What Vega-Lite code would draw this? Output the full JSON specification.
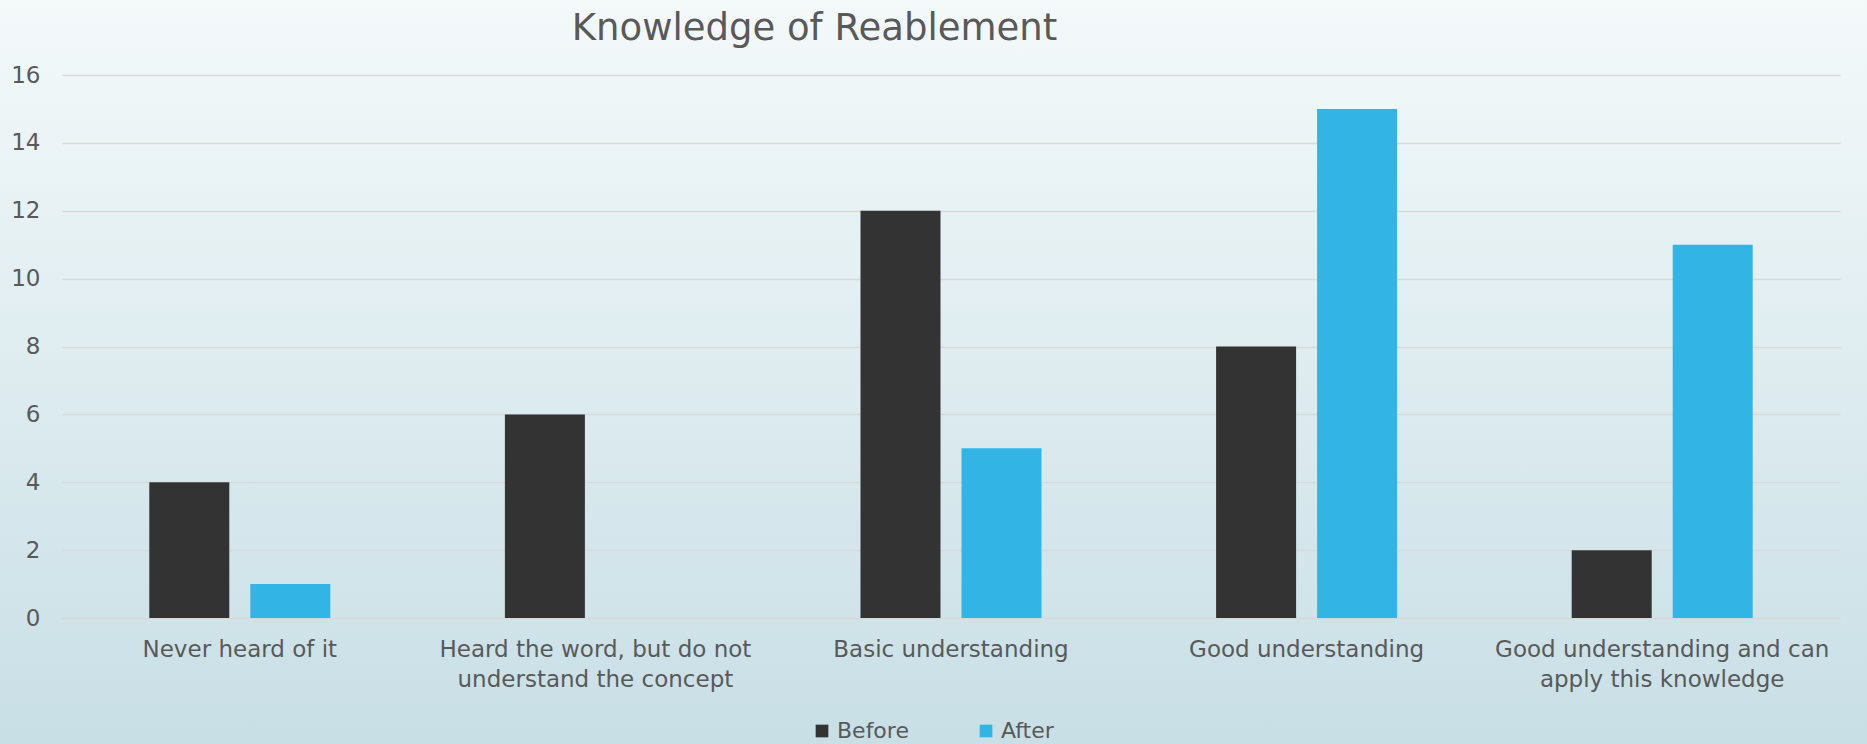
{
  "$schema": "https://vega.github.io/schema/vega-lite/v6.json",
  "autosize": {"type": "none"},
  "width": 1867,
  "height": 744,
  "padding": 0,
  "background": "#DFECF0",
  "title": {
    "text": "Knowledge of Reablement",
    "anchor": "middle",
    "frame": "group",
    "dx": -119,
    "fontSize": 37,
    "font": "DejaVu Sans",
    "fontWeight": "normal",
    "color": "#595959",
    "offset": -48
  },
  "data": {
    "values": [
      {"category": "Never heard of it", "period": "Before", "count": 4},
      {"category": "Never heard of it", "period": "After", "count": 1},
      {"category": "Heard the word, but do not understand the concept", "period": "Before", "count": 6},
      {"category": "Heard the word, but do not understand the concept", "period": "After", "count": 0},
      {"category": "Basic understanding", "period": "Before", "count": 12},
      {"category": "Basic understanding", "period": "After", "count": 5},
      {"category": "Good understanding", "period": "Before", "count": 8},
      {"category": "Good understanding", "period": "After", "count": 15},
      {"category": "Good understanding and can apply this knowledge", "period": "Before", "count": 2},
      {"category": "Good understanding and can apply this knowledge", "period": "After", "count": 11}
    ]
  },
  "mark": {"type": "bar"},
  "encoding": {
    "x": {
      "field": "category",
      "type": "nominal",
      "sort": ["Never heard of it", "Heard the word, but do not understand the concept", "Basic understanding", "Good understanding", "Good understanding and can apply this knowledge"],
      "scale": {"range": [62, 1840], "paddingInner": 0.491, "paddingOuter": 0.2455},
      "axis": {
        "title": null,
        "offset": -126,
        "labelAngle": 0,
        "ticks": false,
        "domain": true,
        "domainColor": "#D9D9D9",
        "domainWidth": 1.5,
        "labelFont": "DejaVu Sans",
        "labelFontSize": 23,
        "labelColor": "#595959",
        "labelLineHeight": 30.5,
        "labelPadding": 20,
        "labelBaseline": "top",
        "labelLimit": 0,
        "labelExpr": "datum.value == 'Heard the word, but do not understand the concept' ? ['Heard the word, but do not', 'understand the concept'] : datum.value == 'Good understanding and can apply this knowledge' ? ['Good understanding and can', 'apply this knowledge'] : datum.value"
      }
    },
    "xOffset": {
      "field": "period",
      "type": "nominal",
      "sort": ["Before", "After"],
      "scale": {"paddingInner": 0.208, "paddingOuter": 0}
    },
    "y": {
      "field": "count",
      "type": "quantitative",
      "scale": {"domain": [0, 16], "nice": false, "range": [618, 75]},
      "axis": {
        "title": null,
        "offset": -62,
        "values": [0, 2, 4, 6, 8, 10, 12, 14, 16],
        "ticks": false,
        "domain": false,
        "grid": true,
        "gridColor": "#D9D9D9",
        "gridWidth": 1.5,
        "labelFont": "DejaVu Sans",
        "labelFontSize": 23,
        "labelColor": "#595959",
        "labelPadding": 22
      }
    },
    "color": {
      "field": "period",
      "type": "nominal",
      "sort": ["Before", "After"],
      "scale": {"domain": ["Before", "After"], "range": ["#333333", "#32B5E5"]},
      "legend": {
        "title": null,
        "orient": "none",
        "legendX": 811,
        "legendY": 720,
        "direction": "horizontal",
        "symbolType": "square",
        "symbolSize": 161,
        "symbolStrokeWidth": 0,
        "labelFont": "DejaVu Sans",
        "labelFontSize": 22,
        "labelColor": "#595959",
        "labelOffset": 4,
        "columnPadding": 66,
        "padding": 0
      }
    }
  },
  "config": {
    "view": {
      "fill": {
        "gradient": "linear",
        "x1": 0, "y1": 0, "x2": 0, "y2": 1,
        "stops": [
          {"offset": 0, "color": "#F4F9FA"},
          {"offset": 1, "color": "#C8DFE6"}
        ]
      },
      "stroke": null
    }
  }
}
